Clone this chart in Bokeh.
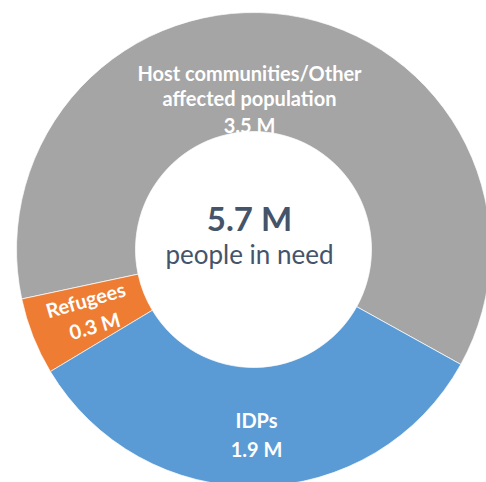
import numpy as np
from bokeh.plotting import figure
from bokeh.models import Range1d, ColumnDataSource
from bokeh.core.properties import value
from bokeh.embed import file_html
from bokeh.resources import INLINE

# ---- data ----
categories = ["Host communities/Other affected population", "Refugees", "IDPs"]
values = [3.5, 0.3, 1.9]
colors = ["#a5a5a5", "#ee7d33", "#5b9bd5"]
total_label = "5.7 M"
total_caption = "people in need"
value_labels = ["3.5 M", "0.3 M", "1.9 M"]

W, H = 486, 482
p = figure(width=W, height=H, output_backend="svg", toolbar_location=None,
           x_range=Range1d(0, W), y_range=Range1d(0, H), min_border=0)
p.axis.visible = False
p.grid.visible = False
p.outline_line_color = None
p.background_fill_color = "white"

cx, cy = 253, 233
vals = np.array(values)
frac = vals / vals.sum()
start0 = np.deg2rad(-29.0)
ends = start0 + np.cumsum(frac) * 2 * np.pi
starts = np.concatenate([[start0], ends[:-1]])
src = ColumnDataSource(dict(start=starts, end=ends, color=colors, cat=categories))
p.annular_wedge(x=cx, y=cy, inner_radius=118, outer_radius=237,
                inner_radius_units="screen", outer_radius_units="screen",
                start_angle="start", end_angle="end", fill_color="color",
                line_color="white", line_width=0.7, source=src)

font = value("Lato")
white = "#ffffff"
dark = "#44546a"

# host label
p.text(x=[249, 249, 249], y=[410, 385, 358],
       text=["Host communities/Other", "affected population", value_labels[0]],
       text_font=font, text_font_style="bold", text_font_size="20px",
       text_color=white, text_align="center", text_baseline="alphabetic")
# IDPs label
p.text(x=[256, 256], y=[63, 34], text=["IDPs", value_labels[2]],
       text_font=font, text_font_style="bold", text_font_size="20px",
       text_color=white, text_align="center", text_baseline="alphabetic")
# Refugees label (rotated)
p.text(x=[85, 94], y=[183, 157], text=["Refugees", value_labels[1]],
       text_font=font, text_font_style="bold", text_font_size="20px",
       text_color=white, text_align="center", text_baseline="middle",
       angle=np.deg2rad(16))
# center
p.text(x=[249], y=[265], text=[total_label], text_font=font,
       text_font_style="bold", text_font_size="33px", text_color=dark,
       text_align="center", text_baseline="alphabetic")
p.text(x=[249], y=[229], text=[total_caption], text_font=font,
       text_font_size="26px", text_color=dark,
       text_align="center", text_baseline="alphabetic")

open("out.html", "w").write(file_html(p, INLINE))
